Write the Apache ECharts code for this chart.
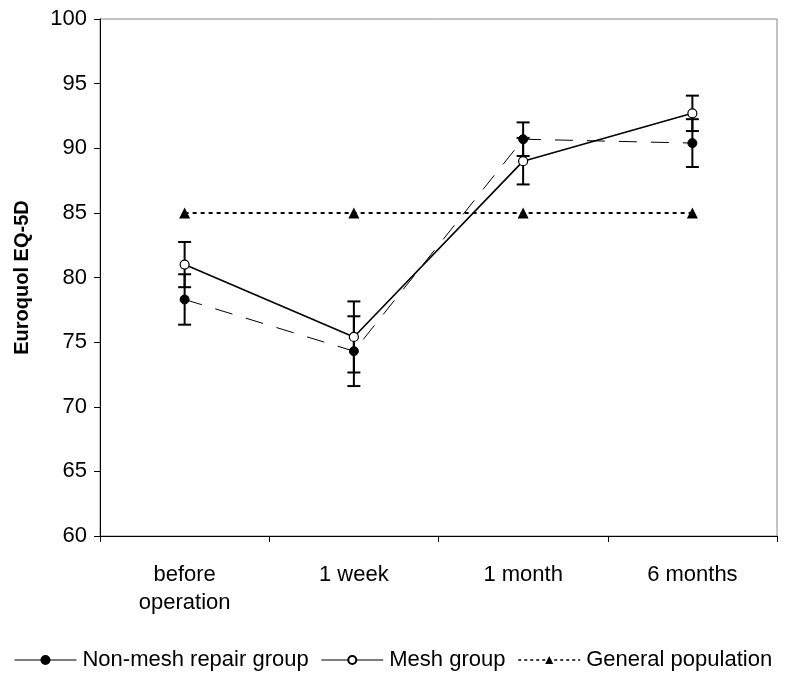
<!DOCTYPE html>
<html>
<head>
<meta charset="utf-8">
<script src="https://cdn.jsdelivr.net/npm/echarts@6/dist/echarts.min.js"></script>
<style>html,body{margin:0;padding:0;background:#fff}#c{width:786px;height:673px}</style>
</head>
<body>
<div id="c"></div>
<script>
var categories = ['before\noperation', '1 week', '1 month', '6 months'];
var nonMesh = [78.3, 74.3, 90.7, 90.4];
var nonMeshErr = [1.95, 2.7, 1.3, 1.85];
var mesh = [81.0, 75.4, 89.0, 92.7];
var meshErr = [1.75, 2.75, 1.8, 1.37];
var general = [85, 85, 85, 85];
var yTicks = [60, 65, 70, 75, 80, 85, 90, 95, 100];

function errData(vals, errs) {
  return vals.map(function (v, i) { return [i, v - errs[i], v + errs[i]]; });
}
function errRender(params, api) {
  var x = api.value(0);
  var lo = api.coord([x, api.value(1)]);
  var hi = api.coord([x, api.value(2)]);
  var hw = 6.5;
  var st = { stroke: '#000', lineWidth: 2 };
  return {
    type: 'group',
    children: [
      { type: 'line', shape: { x1: lo[0], y1: lo[1], x2: hi[0], y2: hi[1] }, style: st },
      { type: 'line', shape: { x1: lo[0] - hw, y1: lo[1], x2: lo[0] + hw, y2: lo[1] }, style: st },
      { type: 'line', shape: { x1: hi[0] - hw, y1: hi[1], x2: hi[0] + hw, y2: hi[1] }, style: st }
    ]
  };
}

var font = 'Liberation Sans, Arial, sans-serif';
var chart = echarts.init(document.getElementById('c'));
chart.setOption({
  animation: false,
  textStyle: { fontFamily: font },
  grid: { left: 100, right: 9, top: 19, bottom: 137, show: true, borderColor: '#888', borderWidth: 1 },
  legend: {
    top: 644,
    left: 'center',
    itemWidth: 62,
    itemHeight: 10,
    itemGap: 12,
    textStyle: { fontSize: 22, color: '#000', fontFamily: font, padding: [0, 0, 0, 1] },
    data: [
      { name: 'Non-mesh repair group', lineStyle: { type: 'solid', width: 1.2 } },
      { name: 'Mesh group', lineStyle: { width: 1.2 } },
      { name: 'General population', lineStyle: { width: 1.5, type: [3, 3] } }
    ]
  },
  xAxis: {
    type: 'category',
    data: categories,
    boundaryGap: true,
    axisLine: { lineStyle: { color: '#000', width: 1 } },
    axisTick: { show: true, length: 6, inside: false, lineStyle: { color: '#000' } },
    axisLabel: { fontSize: 22, color: '#000', lineHeight: 28, margin: 25, fontFamily: font },
    splitLine: { show: false }
  },
  yAxis: {
    type: 'value',
    min: 60, max: 100, interval: 5,
    name: 'Euroquol EQ-5D',
    nameLocation: 'middle',
    nameGap: 68,
    nameTextStyle: { fontSize: 20, fontWeight: 'bold', color: '#000', fontFamily: font },
    axisLine: { show: true, lineStyle: { color: '#000', width: 1 } },
    axisTick: { show: true, length: 6, lineStyle: { color: '#000' } },
    axisLabel: { fontSize: 22, color: '#000', margin: 13, fontFamily: font,
      formatter: function (v) { return yTicks.indexOf(v) >= 0 ? String(v) : ''; } },
    splitLine: { show: false }
  },
  series: [
    { type: 'custom', name: 'errNonMesh', renderItem: errRender, data: errData(nonMesh, nonMeshErr), z: 3, silent: true },
    { type: 'custom', name: 'errMesh', renderItem: errRender, data: errData(mesh, meshErr), z: 3, silent: true },
    {
      type: 'line', name: 'General population', data: general,
      symbol: 'triangle', symbolSize: 11,
      itemStyle: { color: '#000', borderWidth: 0 },
      lineStyle: { color: '#000', width: 2, type: [4, 4] },
      z: 4
    },
    {
      type: 'line', name: 'Non-mesh repair group', data: nonMesh,
      symbol: 'circle', symbolSize: 9,
      itemStyle: { color: '#000', borderColor: '#000', borderWidth: 1 },
      lineStyle: { color: '#000', width: 1, type: [18, 14] },
      z: 5
    },
    {
      type: 'line', name: 'Mesh group', data: mesh,
      symbol: 'circle', symbolSize: 9,
      itemStyle: { color: '#fff', borderColor: '#000', borderWidth: 1.2 },
      lineStyle: { color: '#000', width: 1.6 },
      z: 6
    }
  ]
});
</script>
</body>
</html>
